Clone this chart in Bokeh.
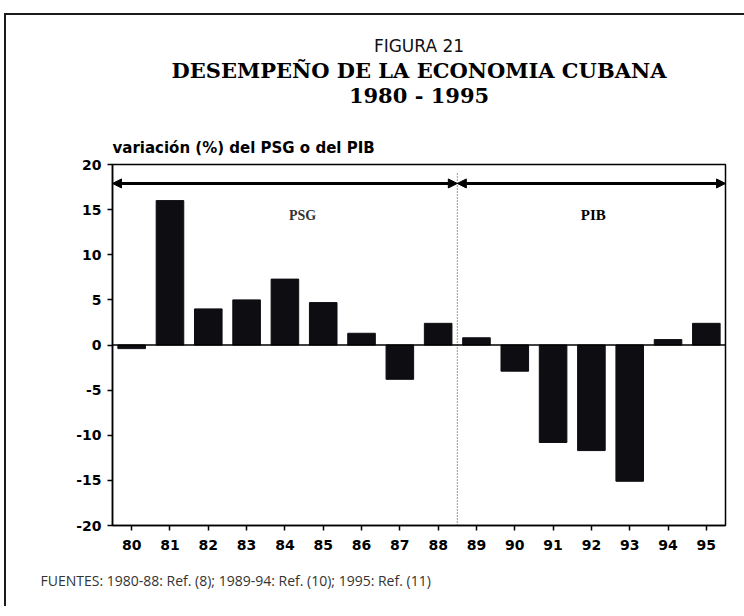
from bokeh.plotting import figure
from bokeh.models import (ColumnDataSource, Label, Arrow, NormalHead, Span,
                          FixedTicker, Title)
from bokeh.embed import file_html
from bokeh.resources import INLINE

years = ["80", "81", "82", "83", "84", "85", "86", "87", "88",
         "89", "90", "91", "92", "93", "94", "95"]
variacion = [-0.4, 16.0, 4.0, 5.0, 7.3, 4.7, 1.3, -3.8, 2.4,
             0.8, -2.9, -10.8, -11.7, -15.1, 0.6, 2.4]
y_ticks = [-20, -15, -10, -5, 0, 5, 10, 15, 20]
y_tick_labels = ["-20", "-15", "-10", "-5", "0", "5", "10", "15", "20"]

title_top = "FIGURA 21"
title_main = "DESEMPEÑO DE LA ECONOMIA CUBANA"
title_years = "1980 - 1995"
y_label = "variación (%) del PSG o del PIB"
footer = "FUENTES: 1980-88: Ref. (8); 1989-94: Ref. (10); 1995: Ref. (11)"

source = ColumnDataSource(data=dict(years=years, variacion=variacion))

p = figure(x_range=years, y_range=(-20, 20), frame_width=613, frame_height=361,
           min_border_left=112, min_border_right=19, min_border_top=164,
           min_border_bottom=75, output_backend="svg", toolbar_location=None,
           background_fill_color="white", border_fill_color=None)
p.title.visible = False
p.styles = {
    "background": ("linear-gradient(to right, transparent 4px, #1a1a1a 4px, "
                   "#1a1a1a 6px, transparent 6px) 0px 13px / 100% 100% no-repeat, "
                   "linear-gradient(to bottom, transparent 13px, #1a1a1a 13px, "
                   "#1a1a1a 15px, transparent 15px) 4px 0px / 100% 100% no-repeat, white"),
}

p.vbar(x="years", top="variacion", bottom=0, width=0.72, source=source,
       fill_color="#0d0d12", line_color="#0d0d12")

p.xgrid.visible = False
p.ygrid.visible = False
p.outline_line_color = "black"
p.outline_line_width = 1.5

p.yaxis.ticker = FixedTicker(ticks=y_ticks)
p.yaxis.major_label_overrides = {t: l for t, l in zip(y_ticks, y_tick_labels)}
p.yaxis.minor_tick_line_color = None
for ax in (p.xaxis, p.yaxis):
    ax.axis_line_color = "black"
    ax.axis_line_width = 1.5
    ax.major_tick_line_color = "black"
    ax.major_tick_line_width = 1.5
    ax.major_tick_in = 0
    ax.major_tick_out = 5
    ax.major_label_text_font = "DejaVu Sans"
    ax.major_label_text_font_style = "bold"
    ax.major_label_text_font_size = "14px"
    ax.major_label_text_color = "black"
p.xaxis.major_label_standoff = 9
p.yaxis.major_label_standoff = 6

# zero line
p.add_layout(Span(location=0, dimension="width", line_color="black", line_width=1.5))

# dotted divider between 88 and 89
p.segment(x0=[9.0], y0=[19.0], x1=[9.0], y1=[-20.0], line_color="#333333",
          line_width=1, line_dash="1 2")

# arrows
for xs, xe in ((0.0, 9.0), (9.0, 16.0)):
    p.add_layout(Arrow(x_start=xs, y_start=17.9, x_end=xe, y_end=17.9,
                       line_color="black", line_width=3,
                       start=NormalHead(size=9, fill_color="black", line_color="black"),
                       end=NormalHead(size=9, fill_color="black", line_color="black")))

p.add_layout(Label(x=4.96, y=14.35, text="PSG", text_align="center",
                   text_baseline="middle", text_font="Liberation Serif",
                   text_font_style="bold", text_font_size="14px", text_color="#333333"))
p.add_layout(Label(x=12.55, y=14.35, text="PIB", text_align="center",
                   text_baseline="middle", text_font="Liberation Serif",
                   text_font_style="bold", text_font_size="15px", text_color="black"))

# titles stacked above the frame (first added is closest to the frame)
p.add_layout(Title(text=y_label, align="left", offset=0, standoff=15,
                   text_font="DejaVu Sans", text_font_style="bold",
                   text_font_size="15px", text_color="black"), "above")
p.add_layout(Title(text=" ", align="left", standoff=21,
                   text_font="DejaVu Sans", text_font_size="2px"), "above")
p.add_layout(Title(text=title_years, align="center", standoff=-6,
                   text_font="DejaVu Serif", text_font_style="bold",
                   text_font_size="21px", text_color="black"), "above")
p.add_layout(Title(text=title_main, align="center", standoff=1,
                   text_font="DejaVu Serif", text_font_style="bold",
                   text_font_size="21px", text_color="black"), "above")
p.add_layout(Title(text=title_top, align="center", standoff=0,
                   text_font="DejaVu Sans", text_font_style="normal",
                   text_font_size="17px", text_color="#111111"), "above")

# footer below the axis
p.add_layout(Title(text=footer, align="left", offset=-72, standoff=33,
                   text_font="Open Sans", text_font_style="normal",
                   text_font_size="14px", text_color="#333333"), "below")

open("out.html", "w").write(file_html(p, INLINE))
